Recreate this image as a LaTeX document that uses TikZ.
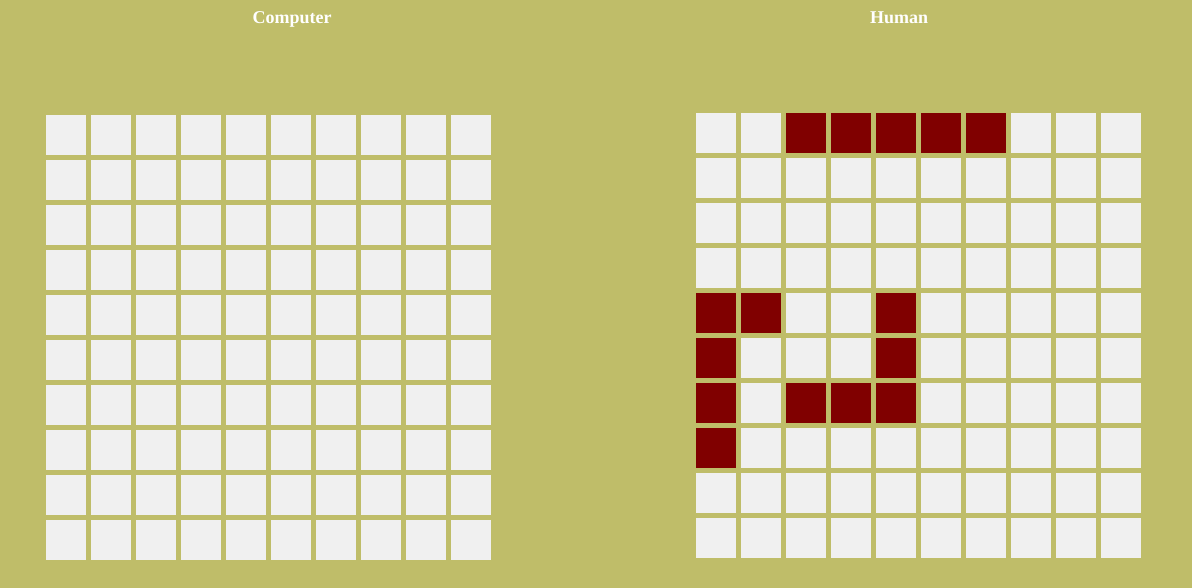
\documentclass[tikz,border=0pt]{standalone}
\usepackage{fontspec}
\setmainfont{Liberation Serif}
\usepackage{tikz}
\definecolor{BoardOlive}{HTML}{BFBD69}
\definecolor{CellGray}{HTML}{F0F0F0}
\definecolor{ShipRed}{HTML}{800000}

\begin{document}
\begin{tikzpicture}[x=0.75pt, y=-0.75pt, cell/.style={fill=CellGray,minimum size=30pt,inner sep=0pt,outer sep=0pt}, hit/.style={cell,fill=ShipRed}, title/.style={font=\bfseries\fontsize{13.5}{16}\selectfont,text=white,anchor=base}]
    \fill[BoardOlive] (0,0) rectangle (1192,588);
    \node[title] (tcomp) at (292,24) {Computer};
    \node[title] (thuman) at (899,24) {Human};
    \foreach \r in {0,...,9} \foreach \c in {0,...,9} {
      \node[cell] (comp-\r-\c) at ({66+45*\c},{135+45*\r}) {};
      \node[cell] (human-\r-\c) at ({716+45*\c},{133+45*\r}) {};
    }
    \foreach \r/\c in {0/2,0/3,0/4,0/5,0/6,4/0,4/1,4/4,5/0,5/4,6/0,6/2,6/3,6/4,7/0}
      \node[hit] at (human-\r-\c) {};
  \end{tikzpicture}
\end{document}
